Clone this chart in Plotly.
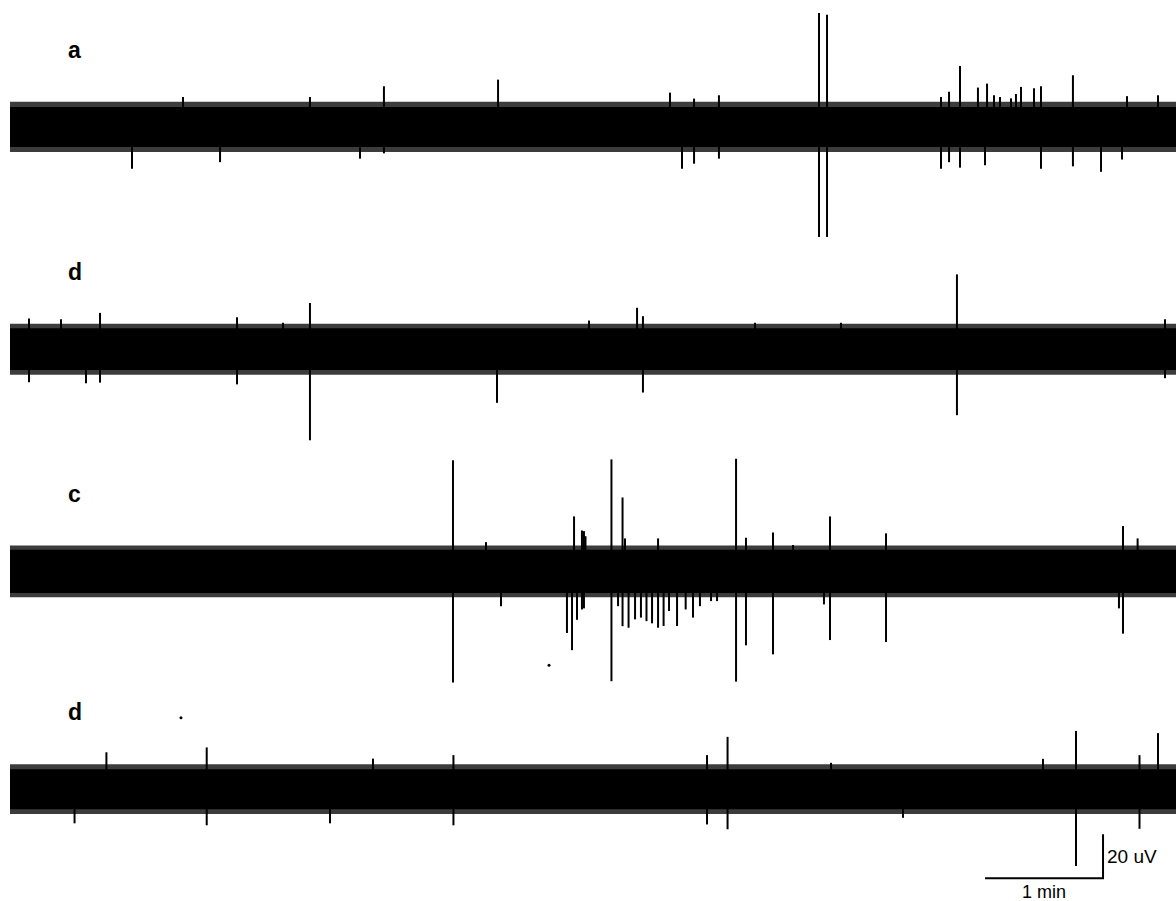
import plotly.graph_objects as go

# ---------------- data ----------------
trace_labels = ["a", "d", "c", "d"]
trace_offsets_uv = [0, -101, -202, -301]          # vertical stacking offset of each recording
noise_halfwidth_uv = [9.1, 9.5, 9.8, 9.1]         # dense background noise band (solid part)
noise_fringe_uv = [11.4, 11.6, 11.8, 11.3]        # ragged edge of noise band
record_length_min = 10.0

# spikes: time (min), upward peak (uV), downward peak (uV) relative to baseline
a_t    = [1.034, 1.466, 1.780, 2.542, 2.966, 3.169, 4.136, 5.593, 5.695, 5.797, 6.008, 6.856, 6.924,
          7.890, 7.958, 8.051, 8.203, 8.263, 8.280, 8.339, 8.390, 8.483, 8.525, 8.568, 8.678, 8.737,
          9.008, 9.246, 9.424, 9.466, 9.729]
a_up   = [0, 13.6, 0, 13.6, 0, 18.5, 21.5, 15.6, 0, 12.9, 14.4, 51.8, 51.0,
          13.6, 16.0, 27.7, 17.9, 0, 19.7, 14.4, 13.6, 13.0, 15.0, 18.2, 17.6, 18.5,
          23.5, 0, 0, 14.0, 14.4]
a_down = [-19, 0, -16, 0, -14.4, -12, 0, 0, -19, -16.7, -14.4, -50, -50,
          -19, -16, -18.5, 0, -17.4, 0, 0, 0, 0, 0, 0, 0, -19,
          -17.9, -20.4, -14.8, 0, 0]

d1_t    = [0.161, 0.432, 0.644, 0.763, 1.924, 2.314, 2.542, 4.127, 4.907, 5.314, 5.364, 6.314, 7.042, 8.025, 9.788]
d1_up   = [14.0, 13.6, 0, 16.5, 14.5, 12.0, 21.0, 0, 13.0, 18.8, 15.0, 12.0, 12.0, 34.0, 13.6]
d1_down = [-15, 0, -15.5, -15.2, -16, 0, -41.4, -24.4, 0, 0, -19.7, 0, 0, -30, -13.2]

c_t    = [3.754, 4.034, 4.161, 4.720, 4.763, 4.780, 4.805, 4.847, 4.864, 4.877, 5.097, 5.153, 5.191,
          5.212, 5.242, 5.297, 5.347, 5.394, 5.441, 5.492, 5.539, 5.585, 5.653, 5.726, 5.788, 5.847,
          5.941, 5.992, 6.153, 6.237, 6.466, 6.636, 6.898, 6.949, 7.424, 9.398, 9.432, 9.556]
c_up   = [50.5, 13.3, 0, 0, 0, 25.0, 0, 18.6, 18.3, 16.0, 50.9, 0, 33.6,
          15.0, 0, 0, 0, 0, 0, 15.0, 0, 0, 0, 0, 0, 0,
          0, 0, 51.2, 15.3, 17.7, 12.0, 0, 25.0, 17.3, 0, 20.6, 15.0]
c_down = [-50.5, 0, -15.8, -28, -35.8, 0, -22, -17.3, -16.8, 0, -49.9, -15.8, -24.9,
          0, -25.6, -21.8, -21, -22.6, -23.6, -25.6, -24.8, -18, -24.8, -17.3, -21, -15.8,
          -13.5, -13.5, -50.1, -33.6, -37.7, 0, -15, -31.2, -32.1, -16.8, -28.3, 0]

d2_t    = [0.547, 0.817, 1.667, 2.712, 3.076, 3.758, 5.907, 6.081, 6.958, 7.568, 8.754, 9.034, 9.572, 9.729]
d2_up   = [0, 16.8, 19.0, 0, 13.9, 15.5, 15.5, 23.8, 12.0, 0, 13.8, 26.5, 15.5, 25.5]
d2_down = [-15.5, 0, -16.4, -15.5, 0, -16.4, -16, -18.2, 0, -13, 0, -34.9, -18, 0]

spike_t = [a_t, d1_t, c_t, d2_t]
spike_up = [a_up, d1_up, c_up, d2_up]
spike_down = [a_down, d1_down, c_down, d2_down]

# isolated specks in the recording image (time min, absolute uV)
speck_t = [4.568, 1.449]
speck_v = [-244.7, -268.5]

# scale bar: 1 min, 20 uV
scale_t_min = 1.0
scale_v_uv = 20.0
scale_corner = (9.263, -341.5)

# ---------------- figure ----------------
fig = go.Figure()

for i, off in enumerate(trace_offsets_uv):
    hf = noise_fringe_uv[i]
    hw = noise_halfwidth_uv[i]
    # ragged fringe of the noise band
    fig.add_trace(go.Scatter(
        x=[0, record_length_min, record_length_min, 0, 0],
        y=[off - hf, off - hf, off + hf, off + hf, off - hf],
        mode="lines", fill="toself", fillcolor="#3c3c3c",
        line=dict(width=0, color="#3c3c3c"), hoverinfo="skip", showlegend=False))
    # dense noise band
    fig.add_trace(go.Scatter(
        x=[0, record_length_min, record_length_min, 0, 0],
        y=[off - hw, off - hw, off + hw, off + hw, off - hw],
        mode="lines", fill="toself", fillcolor="black",
        line=dict(width=0, color="black"), hoverinfo="skip", showlegend=False))
    # spikes
    xs, ys = [], []
    for t, u, d in zip(spike_t[i], spike_up[i], spike_down[i]):
        xs += [t, t, None]
        ys += [off + d, off + u, None]
    fig.add_trace(go.Scatter(x=xs, y=ys, mode="lines",
                             line=dict(color="black", width=2),
                             hoverinfo="skip", showlegend=False))
    # label
    fig.add_annotation(x=0.55, y=off + 35, text="<b>%s</b>" % trace_labels[i],
                       showarrow=False, font=dict(family="Liberation Sans, Arial", size=23, color="black"),
                       xanchor="center", yanchor="middle")

fig.add_trace(go.Scatter(x=speck_t, y=speck_v, mode="markers",
                         marker=dict(color="black", size=3),
                         hoverinfo="skip", showlegend=False))

# scale bar
ct, cv = scale_corner
fig.add_trace(go.Scatter(
    x=[ct - scale_t_min, ct, ct],
    y=[cv, cv, cv + scale_v_uv],
    mode="lines", line=dict(color="black", width=2),
    hoverinfo="skip", showlegend=False))
fig.add_annotation(x=ct + 0.02, y=cv + scale_v_uv / 2, text="20 uV", showarrow=False,
                   xanchor="left", yanchor="middle",
                   font=dict(family="Liberation Sans Narrow, Arial Narrow, Liberation Sans", size=19, color="black"))
fig.add_annotation(x=ct - scale_t_min / 2, y=cv - 0.8, text="1 min", showarrow=False,
                   xanchor="center", yanchor="top",
                   font=dict(family="Liberation Sans Narrow, Arial Narrow, Liberation Sans", size=18, color="black"))

fig.update_layout(
    width=1176, height=901,
    margin=dict(l=0, r=0, t=0, b=0),
    paper_bgcolor="white", plot_bgcolor="white",
    showlegend=False,
    xaxis=dict(range=[-10 / 118, 1166 / 118], visible=False, showgrid=False, zeroline=False, fixedrange=True),
    yaxis=dict(range=[-351.8, 57.7], visible=False, showgrid=False, zeroline=False, fixedrange=True),
)

fig.write_html("out.html", config={"displayModeBar": False},
               post_script="document.body.style.margin='0';document.body.style.overflow='hidden';")
